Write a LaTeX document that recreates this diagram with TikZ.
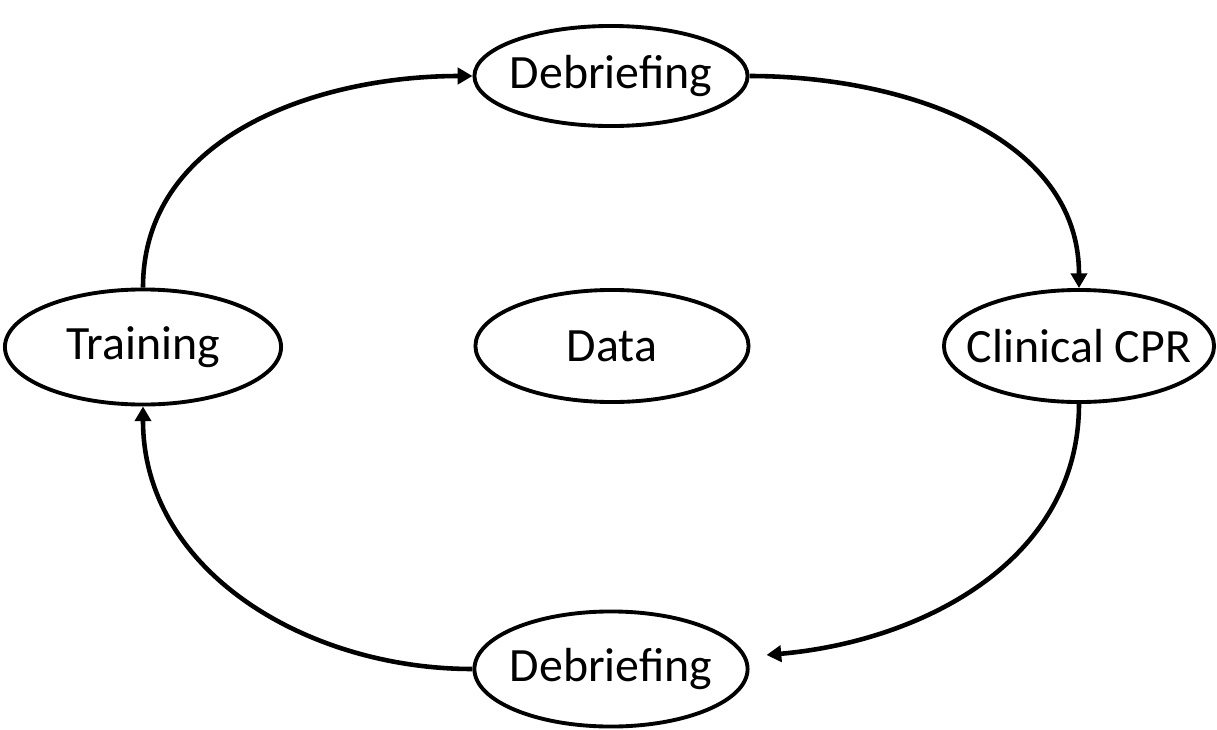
\documentclass[tikz,border=0pt]{standalone}
\usepackage{fontspec}
\setmainfont{Carlito}
\usetikzlibrary{arrows.meta,shapes.geometric}

\begin{document}
\begin{tikzpicture}[x=0.01cm,y=0.01cm,
    every node/.style={font=\fontsize{13.6}{16}\selectfont},
    stage/.style={ellipse, draw, line width=1.1pt, inner xsep=-5pt, inner ysep=0pt,
                  minimum width=2.73cm, minimum height=1.12cm},
    cycle/.style={-{Triangle[length=4.2pt,width=4.6pt]}, line width=1.3pt}]
  % canvas 1217 x 729 px, y upwards
  \useasboundingbox (0,0) rectangle (1217,729);

  % ── stages ──
  \node[stage, minimum height=1.0cm] (debtop) at (611,653) {Debriefing};
  \node[stage, minimum width=2.76cm, minimum height=1.15cm] (training) at (143,382) {Training};
  \node[stage] (data) at (612,383) {Data};
  \node[stage, minimum width=2.7cm] (clinical) at (1079,383) {Clinical CPR};
  \node[stage, minimum height=1.15cm] (debbot) at (611,60) {Debriefing};

  % ── cycle arrows ──
  \draw[cycle] (training.north) to[out=90, in=180] (debtop.west);
  \draw[cycle] (debtop.east) to[out=0, in=90] (clinical.north);
  % free end stops short of the ellipse
  \coordinate (botend) at ([shift={(17,14)}]debbot.east);
  \draw[cycle] (clinical.south) to[out=-90, in=5] (botend);
  \draw[cycle] (debbot.west) to[out=180, in=-90] (training.south);
\end{tikzpicture}
\end{document}
